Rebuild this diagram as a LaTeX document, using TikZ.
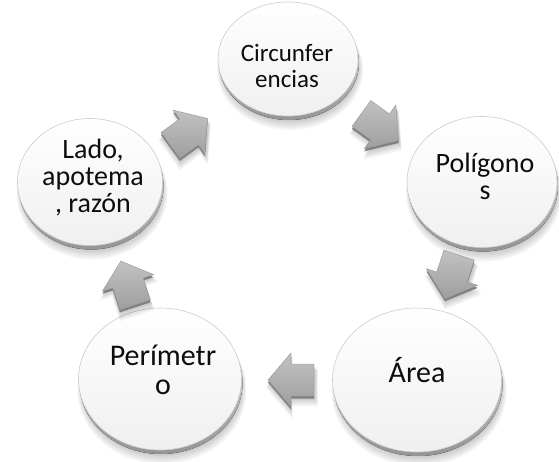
\documentclass[tikz,border=0pt]{standalone}
\usepackage{fontspec}
\setmainfont{Carlito}
\usetikzlibrary{shapes.geometric}

\newcommand\myfs[2]{\fontsize{#1}{#2}\selectfont\lineskiplimit=-100pt\lineskip=0pt}
\newcommand\arrowpath{(-23,-16) -- (0,-16) -- (0,-27) -- (23,0) -- (0,27) -- (0,16) -- (-23,16) -- cycle}

\tikzset{
  bubbleface/.style={ellipse, inner sep=0pt, draw=black!20, line width=0.6pt,
    top color=white, bottom color=black!6},
  txt/.style={inner sep=0pt, align=center, text=black!95},
  arrowface/.style={top color=black!24, bottom color=black!38, draw=black!42, line width=0.4pt},
  arrowside/.style={fill=black!50},
}

\newcommand\bubble[5]{%
  \foreach \k in {1,...,6}{%
    \fill[black,opacity=.04] (#2+2,#3+5+\k) ellipse [x radius={#4/2+\k-3}, y radius={#5/2+\k-3}];}
  \fill[top color=black!8, bottom color=black!42] (#2+1,#3+4) ellipse [x radius={#4/2}, y radius={#5/2}];
  \node[bubbleface, minimum width=#4pt, minimum height=#5pt] (#1) at (#2,#3) {};
}

\newcommand\blockarrow[4]{%
  \foreach \k in {1,...,4}{%
    \fill[black, opacity=.05, shift={(#2+1,#3+2+1.5*\k)}, rotate=#4, scale={1+0.03*\k}] \arrowpath;}
  \fill[arrowside, shift={(#2,#3+2.5)}, rotate=#4] \arrowpath;
  \path[arrowface, shift={(#2,#3)}, rotate=#4] \arrowpath;
  \coordinate (#1) at (#2,#3);
}

\begin{document}
\begin{tikzpicture}[x=1pt,y=-1pt]
\useasboundingbox (0,0) rectangle (559,461);
\fill[white] (0,0) rectangle (559,461);

\bubble{circ}{288}{59}{140}{114}
\bubble{pol}{482}{182}{150}{131}
\bubble{area}{417}{380}{169}{144}
\bubble{per}{160}{379}{163}{142}
\bubble{lado}{90}{182}{145}{127}

\node[txt, font=\myfs{25}{26}] (circ-t) at (287,66) {Circunfer\\encias};
\node[txt, font=\myfs{28}{27}] (pol-t) at (485,176) {Polígono\\s};
\node[txt, font=\myfs{30}{30}] (area-t) at (417,370) {Área};
\node[txt, font=\myfs{30}{29}] (per-t) at (163,370) {Perímetr\\o};
\node[txt, font=\myfs{28}{27}] (lado-t) at (93,178) {Lado,\\apotema\\, razón};

\blockarrow{a1}{189}{132}{36}
\blockarrow{a2}{380}{127}{-36}
\blockarrow{a3}{452}{277}{-108}
\blockarrow{a4}{291}{380}{180}
\blockarrow{a5}{128}{283}{108}
\end{tikzpicture}
\end{document}
